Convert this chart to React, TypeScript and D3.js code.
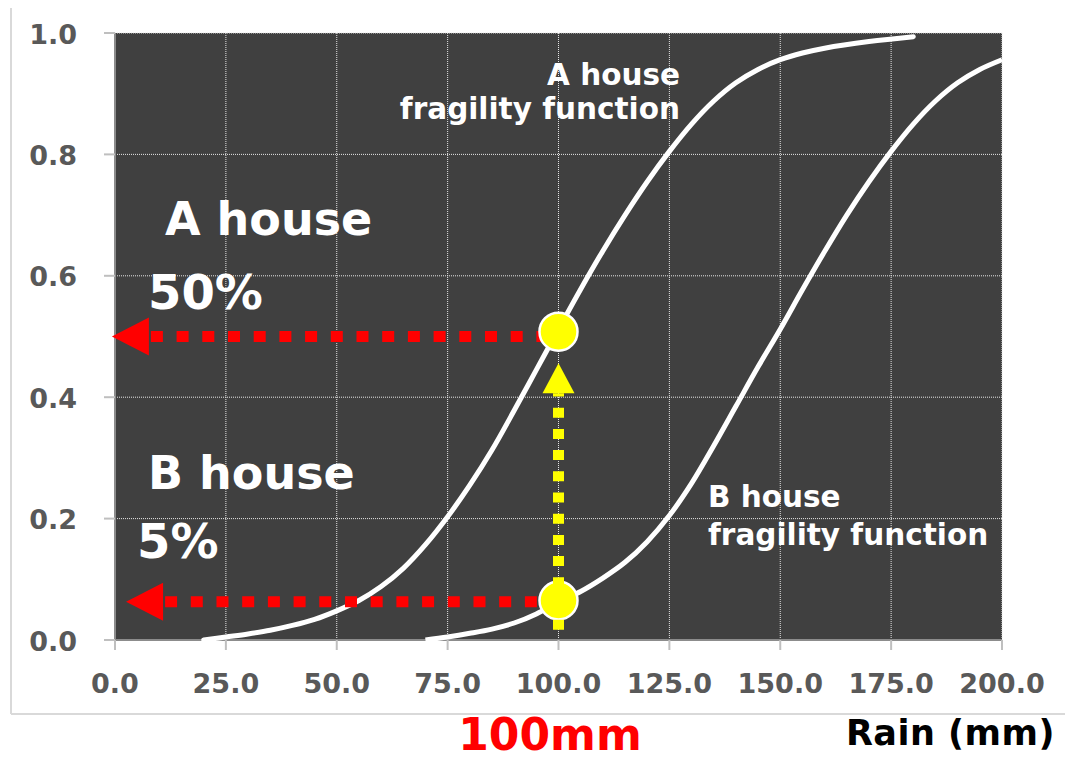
import React from "react";
import * as d3 from "d3";

// ---- data ----
const xTickValues = [0, 25, 50, 75, 100, 125, 150, 175, 200];
const yTickValues = [0, 0.2, 0.4, 0.6, 0.8, 1.0];

// A house fragility function (rain mm, probability)
const houseA: [number, number][] = [
  [20, 0.0], [25, 0.005], [30, 0.01], [35, 0.016], [40, 0.024], [45, 0.034],
  [50, 0.048], [55, 0.065], [60, 0.088], [65, 0.118], [70, 0.157], [75, 0.203],
  [80, 0.255], [85, 0.313], [90, 0.378], [95, 0.445], [100, 0.512], [105, 0.578],
  [110, 0.641], [115, 0.7], [120, 0.755], [125, 0.805], [130, 0.85], [135, 0.888],
  [140, 0.918], [145, 0.94], [150, 0.956], [155, 0.967], [160, 0.975],
  [170, 0.986], [180, 0.994],
];

// B house fragility function
const houseB: [number, number][] = [
  [70, 0.0], [75, 0.005], [80, 0.011], [85, 0.018], [90, 0.028], [95, 0.043],
  [100, 0.063], [105, 0.08], [110, 0.102], [115, 0.128], [120, 0.162], [125, 0.205],
  [130, 0.258], [135, 0.32], [140, 0.385], [145, 0.45], [150, 0.512], [155, 0.577],
  [160, 0.64], [165, 0.7], [170, 0.755], [175, 0.805], [180, 0.85], [185, 0.888],
  [190, 0.918], [195, 0.94], [200, 0.956],
];

const rainPoint = 100;
const dotValues = [0.508, 0.065];
const redArrowLevels = [0.5, 0.063];
const redArrowTips = [-0.7, 2.5];
const yellowArrowFrom = 0.017;
const yellowArrowTo = 0.456;

const W = 1065;
const H = 759;
const FONT = "'DejaVu Sans', Verdana, sans-serif";

export default function App() {
  const x = d3.scaleLinear().domain([0, 200]).range([115, 1002]);
  const y = d3.scaleLinear().domain([0, 1]).range([640, 33]);

  const line = d3
    .line<[number, number]>()
    .x((d) => x(d[0]))
    .y((d) => y(d[1]))
    .curve(d3.curveCatmullRom.alpha(0.5));

  const px = x(rainPoint);
  const headLen = 37;
  const headHalf = 19;

  const yTipY = y(yellowArrowTo);
  const yBaseY = yTipY + 30;
  const yBottom = y(yellowArrowFrom);

  return (
    <svg
      width={W}
      height={H}
      style={{ position: "absolute", left: 0, top: 0, background: "#fff" }}
    >
      {/* outer frame */}
      <line x1={11} y1={8} x2={11} y2={714} stroke="#d9d9d9" strokeWidth={2} />
      <line x1={11} y1={714} x2={W} y2={714} stroke="#d9d9d9" strokeWidth={2} />

      {/* plot background */}
      <rect x={x(0)} y={y(1)} width={x(200) - x(0)} height={y(0) - y(1)} fill="#404040" />

      {/* grid */}
      {xTickValues.filter((v) => v > 0).map((v) => (
        <line key={"gx" + v} x1={x(v)} x2={x(v)} y1={y(0)} y2={y(1)}
          stroke="#e6e6e6" strokeWidth={1} strokeDasharray="1 1" />
      ))}
      {yTickValues.filter((v) => v > 0).map((v) => (
        <line key={"gy" + v} x1={x(0)} x2={x(200)} y1={y(v)} y2={y(v)}
          stroke="#e6e6e6" strokeWidth={1} strokeDasharray="1 1" />
      ))}

      {/* axes */}
      <line x1={x(0)} x2={x(0)} y1={y(1)} y2={y(0)} stroke="#8c8c8c" strokeWidth={2} />
      <line x1={x(0)} x2={x(200)} y1={y(0)} y2={y(0)} stroke="#8c8c8c" strokeWidth={2} />
      {yTickValues.map((v) => (
        <line key={"ty" + v} x1={104} x2={x(0)} y1={y(v)} y2={y(v)} stroke="#bfbfbf" strokeWidth={2} />
      ))}
      {xTickValues.map((v) => (
        <line key={"tx" + v} x1={x(v)} x2={x(v)} y1={y(0)} y2={650} stroke="#bfbfbf" strokeWidth={2} />
      ))}
      {yTickValues.map((v) => (
        <text key={"ly" + v} x={77} y={y(v) + 10.5} textAnchor="end"
          fontFamily={FONT} fontWeight="bold" fontSize={27} fill="#595959">
          {v.toFixed(1)}
        </text>
      ))}
      {xTickValues.map((v) => (
        <text key={"lx" + v} x={x(v)} y={693} textAnchor="middle"
          fontFamily={FONT} fontWeight="bold" fontSize={27} fill="#595959">
          {v.toFixed(1)}
        </text>
      ))}

      {/* curves */}
      <path d={line(houseA) || ""} fill="none" stroke="#fff" strokeWidth={5} strokeLinecap="round" />
      <path d={line(houseB) || ""} fill="none" stroke="#fff" strokeWidth={5} strokeLinecap="butt" />

      {/* red arrows */}
      {redArrowLevels.map((lv, i) => {
        const ty = y(lv);
        const tipX = x(redArrowTips[i]);
        const baseX = tipX + headLen;
        return (
          <g key={"ra" + i}>
            <line x1={baseX + 2} x2={px} y1={ty} y2={ty} stroke="#ff0000" strokeWidth={11}
              strokeDasharray="12 13.7" />
            <path d={`M${tipX},${ty} L${baseX},${ty - headHalf} L${baseX},${ty + headHalf} Z`} fill="#ff0000" />
          </g>
        );
      })}

      {/* dots */}
      {dotValues.map((v, i) => (
        <circle key={"d" + i} cx={px} cy={y(v)} r={19} fill="#ffff00" stroke="#fff" strokeWidth={2.5} />
      ))}

      {/* yellow arrow */}
      <line x1={px} x2={px} y1={yBottom} y2={yBaseY} stroke="#ffff00" strokeWidth={11}
        strokeDasharray="10 11.2" />
      <path d={`M${px},${yTipY} L${px - 16},${yBaseY} L${px + 16},${yBaseY} Z`} fill="#ffff00" />

      {/* annotations */}
      <g fontFamily={FONT} fontWeight="bold" fill="#fff">
        <text x={165} y={235} fontSize={46}>A house</text>
        <text x={148} y={309} fontSize={48}>50%</text>
        <text x={148} y={489} fontSize={46}>B house</text>
        <text x={137} y={558} fontSize={48}>5%</text>
        <text x={680} y={85} fontSize={29.5} textAnchor="end">A house</text>
        <text x={680} y={119} fontSize={29.5} textAnchor="end">fragility function</text>
        <text x={708} y={507} fontSize={29.5}>B house</text>
        <text x={708} y={545} fontSize={29.5}>fragility function</text>
      </g>

      <text x={550} y={750} textAnchor="middle" fontFamily={FONT} fontWeight="bold"
        fontSize={44} fill="#ff0000">100mm</text>
      <text x={1055} y={745} textAnchor="end" fontFamily={FONT} fontWeight="bold"
        fontSize={35} letterSpacing={0.5} fill="#000">Rain (mm)</text>
    </svg>
  );
}
